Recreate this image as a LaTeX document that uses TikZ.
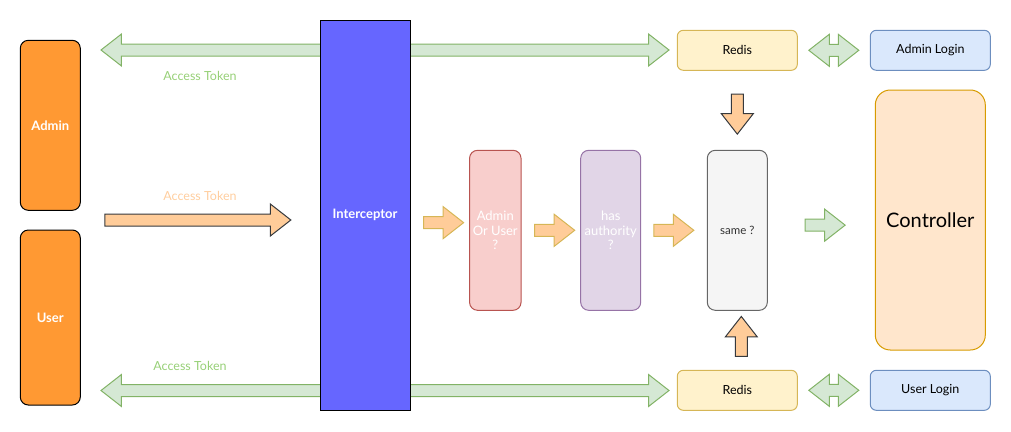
\documentclass[tikz,border=0pt]{standalone}
\usepackage{fontspec}
\setmainfont{Lato}
\usetikzlibrary{arrows.meta,positioning,shapes.arrows,calc}
\definecolor{actorOrange}{HTML}{FF9933}
\definecolor{interBlue}{HTML}{6666FF}
\definecolor{tokGreen}{HTML}{97D077}
\definecolor{tokOrange}{HTML}{FFCE9F}
\definecolor{greenFill}{HTML}{D5E8D4}
\definecolor{greenLine}{HTML}{82B366}
\definecolor{peachFill}{HTML}{FFCC99}
\definecolor{darkLine}{HTML}{36393D}
\definecolor{yellowFill}{HTML}{FFF2CC}
\definecolor{yellowLine}{HTML}{D6B656}
\definecolor{blueFill}{HTML}{DAE8FC}
\definecolor{blueLine}{HTML}{6C8EBF}
\definecolor{redFill}{HTML}{F8CECC}
\definecolor{redLine}{HTML}{B85450}
\definecolor{purpleFill}{HTML}{E1D5E7}
\definecolor{purpleLine}{HTML}{9673A6}
\definecolor{grayFill}{HTML}{F5F5F5}
\definecolor{grayLine}{HTML}{666666}
\definecolor{ctrlFill}{HTML}{FFE6CC}
\definecolor{ctrlLine}{HTML}{D79B00}

\begin{document}
\begin{tikzpicture}[x=1pt, y=-1pt, line width=1pt,
  actor/.style={rectangle, rounded corners=8pt, draw=black, fill=actorOrange, minimum width=60pt, text=white, font=\bfseries\fontsize{13}{15}\selectfont},
  check/.style={rectangle, rounded corners=8pt, minimum width=60pt, minimum height=160pt, align=center, text=white, font=\fontsize{13}{14.5}\selectfont},
  store/.style={rectangle, rounded corners=6pt, draw=yellowLine, fill=yellowFill, minimum width=120pt, minimum height=40pt, font=\fontsize{12.5}{14}\selectfont},
  login/.style={rectangle, rounded corners=6pt, draw=blueLine, fill=blueFill, minimum width=120pt, minimum height=40pt, font=\fontsize{12.5}{14}\selectfont},
  token/.style={font=\fontsize{12.5}{14}\selectfont},
  fatarrow/.style={single arrow, inner sep=5.5pt, single arrow head extend=10pt, single arrow tip angle=76},
  fatboth/.style={double arrow, inner sep=5.5pt, double arrow head extend=10pt, double arrow tip angle=76, draw=greenLine, fill=greenFill},
  peach/.style={fatarrow, draw=yellowLine, fill=peachFill, minimum height=40pt},
  peachdark/.style={fatarrow, draw=darkLine, fill=peachFill}
]
\useasboundingbox (0,0) rectangle (1011,431);
% long token arrows behind the interceptor
\node[fatboth, minimum height=568pt] (tokA) at (385,50) {};
\node[fatboth, minimum height=568pt] (tokU) at (385,390.5) {};
\node[peachdark, minimum height=186pt] (tokIn) at (194,220) {};
\node[token, text=tokGreen] (tokAlbl) at (200,76) {Access Token};
\node[token, text=tokOrange] (tokInlbl) at (200,196) {Access Token};
\node[token, text=tokGreen] (tokUlbl) at (190,366) {Access Token};

\node[actor, minimum height=170pt] (admin) at (50.3,125.3) {Admin};
\node[actor, minimum height=175pt] (user) at (50.3,317.5) {User};
\node[rectangle, draw=black, fill=interBlue, minimum width=90pt, minimum height=390pt, text=white, font=\bfseries\fontsize{13}{15}\selectfont] (inter) at (365,215) {Interceptor};

\node[check, draw=redLine, fill=redFill, minimum width=50pt] (role) at (495.3,230.3) {Admin\\Or User\\?};
\node[check, draw=purpleLine, fill=purpleFill] (auth) at (610.7,230.3) {has\\authority\\?};
\node[check, draw=grayLine, fill=grayFill, text=black!80, font=\fontsize{11.5}{13}\selectfont] (same) at (737.3,230.3) {same ?};
\node[rectangle, rounded corners=15pt, draw=ctrlLine, fill=ctrlFill, minimum width=110pt, minimum height=260pt, font=\fontsize{20}{24}\selectfont] (ctrl) at (930.3,220) {Controller};

\node[store] (redisA) at (737.3,50.3) {Redis};
\node[login] (loginA) at (930.3,50.3) {Admin Login};
\node[store] (redisU) at (737.3,390.3) {Redis};
\node[login] (loginU) at (930.3,390.3) {User Login};

% flow arrows
\node[peach] (f1) at ($(inter.east)!0.5!(role.west)$) {};
\node[peach] (f2) at ($(role.east)!0.5!(auth.west)$) {};
\node[peach] (f3) at ($(auth.east)!0.5!(same.west)+(-4,0)$) {};
\node[fatarrow, draw=greenLine, fill=greenFill, minimum height=40pt] (f4) at ($(same.east)!0.5!(ctrl.west)$) {};
\node[peachdark, minimum height=40pt, shape border rotate=270] (dA) at ($(redisA.south)!0.5!(same.north)$) {};
\node[peachdark, minimum height=40pt, shape border rotate=90] (dU) at ($(same.south)!0.5!(redisU.north)+(4,0)$) {};
\node[fatboth, minimum height=50pt] (lA) at ($(redisA.east)!0.5!(loginA.west)$) {};
\node[fatboth, minimum height=50pt] (lU) at ($(redisU.east)!0.5!(loginU.west)$) {};
\end{tikzpicture}
\end{document}
